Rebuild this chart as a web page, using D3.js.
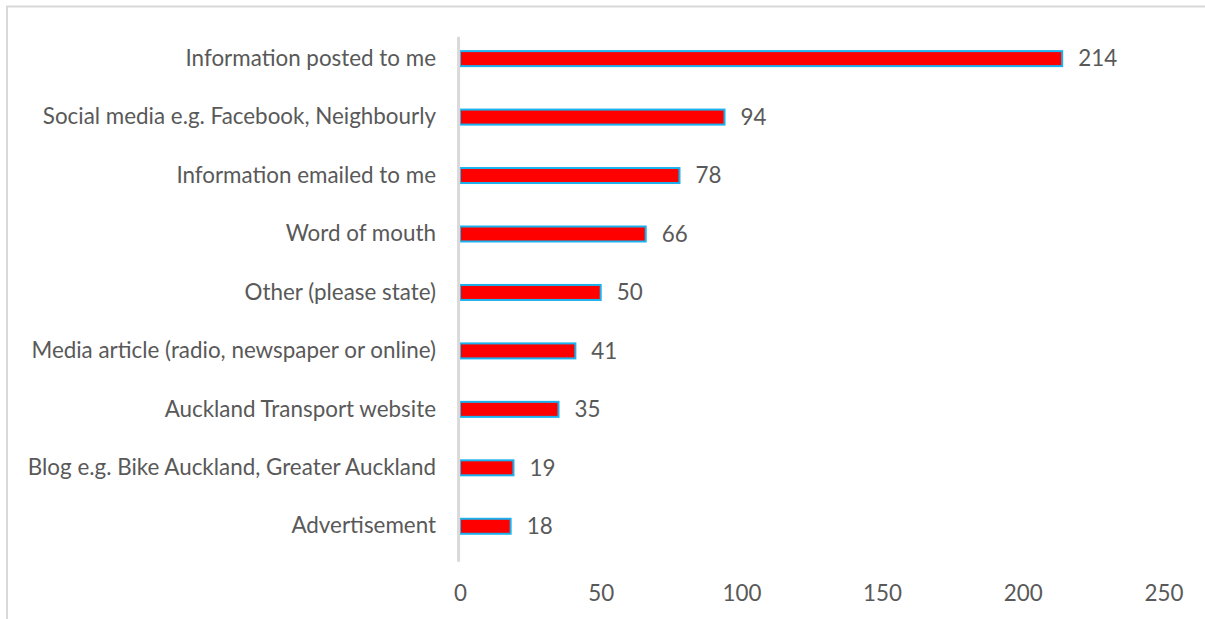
<!DOCTYPE html>
<html>
<head>
<meta charset="utf-8">
<script src="https://cdn.jsdelivr.net/npm/d3@7"></script>
<style>
  html, body { margin: 0; padding: 0; background: #ffffff; }
  svg { display: block; }
  text { font-family: Lato, "Open Sans", sans-serif; fill: #595959; }
</style>
</head>
<body>
<svg id="chart" width="1205" height="619"></svg>
<script>
// Survey responses: how people heard about the project
const categories = [
  "Information posted to me",
  "Social media e.g. Facebook, Neighbourly",
  "Information emailed to me",
  "Word of mouth",
  "Other (please state)",
  "Media article (radio, newspaper or online)",
  "Auckland Transport website",
  "Blog e.g. Bike Auckland, Greater Auckland",
  "Advertisement"
];
const responses = [214, 94, 78, 66, 50, 41, 35, 19, 18];
const xTicks = [0, 50, 100, 150, 200, 250];

const svg = d3.select("#chart");
const fontSize = 22.4;

// Chart area frame
svg.append("rect")
  .attr("x", 7).attr("y", 6.5)
  .attr("width", 1400).attr("height", 800)
  .attr("fill", "none")
  .attr("stroke", "#d9d9d9")
  .attr("stroke-width", 2);

const x = d3.scaleLinear().domain([0, 250]).range([460, 1163.5]);
const y = d3.scaleBand().domain(categories).range([29.4, 555.5]).padding(0);
const barH = 15;

// Bars
svg.append("g").selectAll("rect")
  .data(responses)
  .join("rect")
  .attr("x", x(0))
  .attr("y", (d, i) => y(categories[i]) + y.bandwidth() / 2 - barH / 2)
  .attr("width", d => x(d) - x(0))
  .attr("height", barH)
  .attr("fill", "#ff0000")
  .attr("stroke", "#1ab2ee")
  .attr("stroke-width", 2);

// Value labels
svg.append("g").selectAll("text")
  .data(responses)
  .join("text")
  .attr("x", d => x(d) + 16)
  .attr("y", (d, i) => y(categories[i]) + y.bandwidth() / 2)
  .attr("dy", "0.35em")
  .attr("font-size", fontSize)
  .text(d => d);

// Category axis
const yAxis = svg.append("g")
  .attr("transform", `translate(${x(0)},0)`)
  .call(d3.axisLeft(y).tickSize(0).tickPadding(24));
yAxis.select(".domain").remove();
yAxis.selectAll("text")
  .attr("font-size", fontSize)
  .attr("font-family", null)
  .style("fill", "#595959");

// Vertical baseline
svg.append("line")
  .attr("x1", 458.6).attr("x2", 458.6)
  .attr("y1", 36.7).attr("y2", 561.7)
  .attr("stroke", "#d9d9d9")
  .attr("stroke-width", 3);

// Value axis labels
const xAxis = svg.append("g")
  .attr("transform", "translate(0,601)")
  .call(d3.axisBottom(x).tickValues(xTicks).tickSize(0).tickPadding(0));
xAxis.select(".domain").remove();
xAxis.selectAll("text")
  .attr("font-size", fontSize)
  .attr("font-family", null)
  .attr("y", 0)
  .attr("dy", "0")
  .style("fill", "#595959");
</script>
</body>
</html>
